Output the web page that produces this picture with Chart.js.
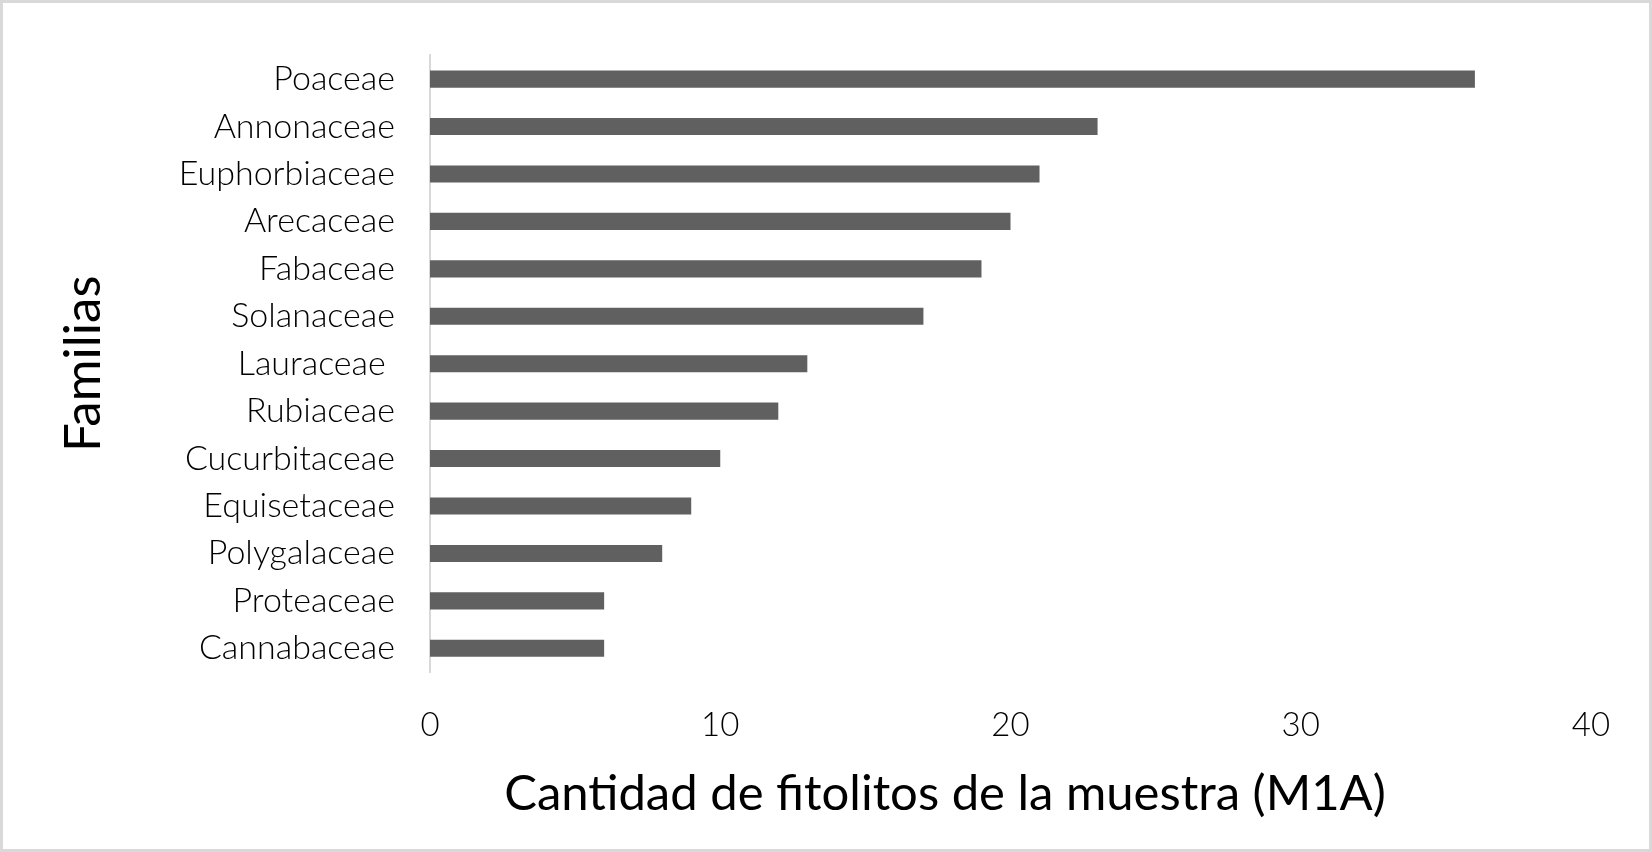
<!DOCTYPE html>
<html>
<head>
<meta charset="utf-8">
<script src="https://cdn.jsdelivr.net/npm/chart.js@4/dist/chart.umd.min.js"></script>
<style>
  html, body { margin: 0; padding: 0; background: #fff; }
  #wrap { width: 1652px; height: 852px; position: relative; }
</style>
</head>
<body>
<div id="wrap"><canvas id="barChart"></canvas></div>
<script>
var familias = ['Poaceae', 'Annonaceae', 'Euphorbiaceae', 'Arecaceae', 'Fabaceae', 'Solanaceae',
    'Lauraceae ', 'Rubiaceae', 'Cucurbitaceae', 'Equisetaceae', 'Polygalaceae', 'Proteaceae', 'Cannabaceae'];
var cantidad = [36, 23, 21, 20, 19, 17, 13, 12, 10, 9, 8, 6, 6];
var xTicks = [0, 10, 20, 30, 40];
var xTitle = 'Cantidad de fitolitos de la muestra (M1A)';
var yTitle = 'Familias';

// white background + light grey frame
var framePlugin = {
    id: 'frame',
    beforeDraw: function (chart) {
        var ctx = chart.ctx;
        ctx.save();
        ctx.fillStyle = '#ffffff';
        ctx.fillRect(0, 0, chart.width, chart.height);
        ctx.strokeStyle = '#d9d9d9';
        ctx.lineWidth = 3;
        ctx.strokeRect(1.5, 1.5, chart.width - 3, chart.height - 3);
        ctx.restore();
    }
};

// x axis title sits a bit left of the plot centre, like the original
var xTitlePlugin = {
    id: 'xTitle',
    afterDraw: function (chart) {
        var ctx = chart.ctx;
        var area = chart.chartArea;
        ctx.save();
        ctx.font = '49px Lato';
        ctx.fillStyle = '#000000';
        ctx.textAlign = 'center';
        ctx.textBaseline = 'alphabetic';
        ctx.fillText(xTitle, area.left + 515, area.bottom + 138);
        ctx.restore();
    }
};

var barData = {
    labels: familias,
    datasets: [{
        label: 'Cantidad',
        data: cantidad,
        backgroundColor: '#606060',
        borderWidth: 0,
        barPercentage: 0.36,
        categoryPercentage: 1
    }]
};

var barOptions = {
    indexAxis: 'y',
    responsive: true,
    maintainAspectRatio: false,
    animation: false,
    layout: {
        padding: { top: 55, right: 61, bottom: 0, left: 0 }
    },
    plugins: {
        legend: { display: false },
        tooltip: { enabled: false }
    },
    scales: {
        x: {
            min: 0,
            max: 40,
            afterBuildTicks: function (scale) {
                scale.ticks = xTicks.map(function (v) { return { value: v }; });
            },
            afterFit: function (scale) { scale.height = 180; },
            grid: { display: false, drawTicks: false },
            border: { display: false },
            ticks: {
                padding: 34,
                color: '#000000',
                font: { family: 'Lato', size: 33, weight: '300' }
            }
        },
        y: {
            afterFit: function (scale) { scale.width = 430; },
            grid: { display: false, drawTicks: false },
            border: { display: true, color: '#d9d9d9', width: 2 },
            ticks: {
                padding: 35,
                autoSkip: false,
                color: '#000000',
                font: { family: 'Lato', size: 34, weight: '300' }
            },
            title: {
                display: true,
                text: yTitle,
                color: '#000000',
                padding: { top: 53, bottom: 0 },
                font: { family: 'Lato', size: 51 }
            }
        }
    }
};

var barChart = new Chart(document.getElementById('barChart'), {
    type: 'bar',
    data: barData,
    options: barOptions,
    plugins: [framePlugin, xTitlePlugin]
});
</script>
</body>
</html>
